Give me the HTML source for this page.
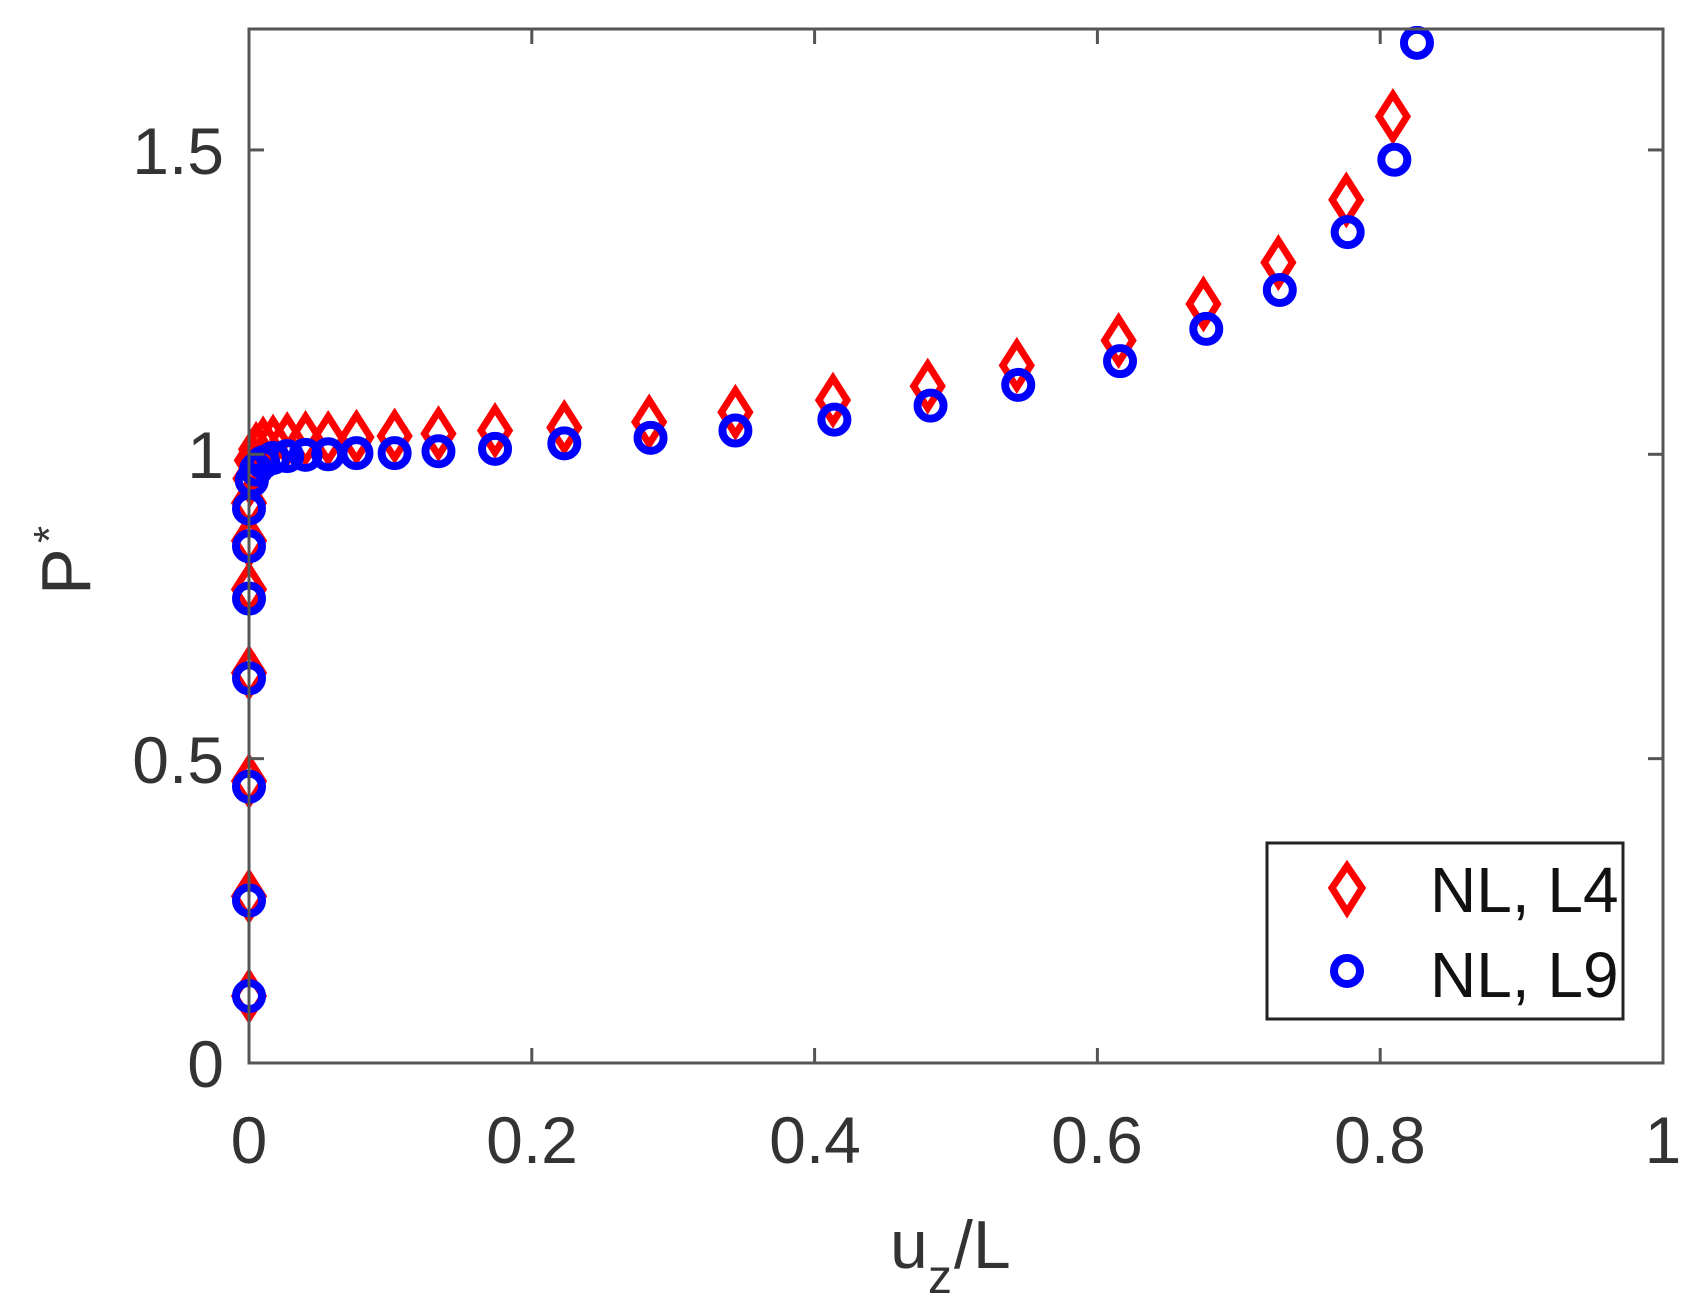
<!DOCTYPE html>
<html><head><meta charset="utf-8"><style>
html,body{margin:0;padding:0;background:#fff;}
svg{display:block;}
text{font-family:"Liberation Sans",sans-serif;}
</style></head><body>
<svg id="s" width="1696" height="1315" viewBox="0 0 1696 1315" xmlns="http://www.w3.org/2000/svg">
<rect width="1696" height="1315" fill="#fff"/>
<g id="data"></g>
<g stroke="#555" stroke-width="3" fill="none">
<rect x="249" y="29" width="1414" height="1034"/>
</g>
<g id="ticks" stroke="#555" stroke-width="3"></g>
<g fill="#333" font-size="66" text-anchor="middle">
<text x="249" y="1163">0</text>
<text x="532" y="1163">0.2</text>
<text x="815" y="1163">0.4</text>
<text x="1097" y="1163">0.6</text>
<text x="1380" y="1163">0.8</text>
<text x="1663" y="1163">1</text>
</g>
<g fill="#333" font-size="66" text-anchor="end">
<text x="224" y="1087">0</text>
<text x="224" y="783">0.5</text>
<text x="224" y="478">1</text>
<text x="224" y="174">1.5</text>
</g>
<text x="890" y="1268" font-size="68" fill="#333">u</text>
<text x="928" y="1293" font-size="48" fill="#333">z</text>
<text x="954" y="1268" font-size="68" fill="#333">/L</text>
<g transform="translate(90,595) rotate(-90)" fill="#333">
<text x="0" y="0" font-size="70">P</text>
<text x="52" y="-26" font-size="44">*</text>
</g>
<rect x="1267" y="843" width="356" height="176" fill="#fff" stroke="#222" stroke-width="3"/>
<path d="M1347 866 L1362 888 L1347 912 L1332 888 Z" fill="none" stroke="#f00" stroke-width="7"/>
<circle cx="1347" cy="971" r="13" fill="none" stroke="#00f" stroke-width="8"/>
<text x="1430" y="912" font-size="64" fill="#111">NL, L4</text>
<text x="1430" y="997" font-size="64" fill="#111">NL, L9</text>
</svg>
<script>
var X=function(v){return 249+v*1414;}, Y=function(v){return 1063-v*608.7;};
var red=[[0.809,1.555],[0.776,1.418],[0.728,1.315],[0.675,1.247],[0.615,1.187],[0.543,1.146],[0.480,1.112],[0.413,1.089],[0.344,1.069],[0.283,1.053],[0.223,1.044],[0.174,1.039],[0.134,1.034],[0.103,1.030],[0.076,1.028],[0.056,1.026],[0.040,1.026],[0.027,1.024],[0.017,1.020],[0.010,1.017],[0.005,1.008],[0.002,0.99],[0.001,0.96],[0,0.92],[0,0.858],[0,0.778],[0,0.641],[0,0.463],[0,0.274],[0,0.11]];
var blue=[[0.826,1.676],[0.810,1.484],[0.777,1.365],[0.729,1.270],[0.677,1.206],[0.616,1.153],[0.544,1.114],[0.482,1.080],[0.414,1.057],[0.344,1.039],[0.284,1.027],[0.223,1.018],[0.174,1.009],[0.134,1.005],[0.103,1.002],[0.076,1.002],[0.056,1.000],[0.040,0.999],[0.027,0.997],[0.017,0.994],[0.010,0.987],[0.005,0.975],[0.002,0.957],[0,0.911],[0,0.849],[0,0.763],[0,0.632],[0,0.454],[0,0.267],[0,0.11]];
var g=document.getElementById('data'),h='';
red.forEach(function(p){var x=X(p[0]),y=Y(p[1]);h+='<path d="M'+x+' '+(y-22)+' L'+(x+14)+' '+y+' L'+x+' '+(y+22)+' L'+(x-14)+' '+y+' Z" fill="none" stroke="#f00" stroke-width="7"/>';});
blue.forEach(function(p){h+='<circle cx="'+X(p[0])+'" cy="'+Y(p[1])+'" r="13" fill="none" stroke="#00f" stroke-width="8"/>';});
g.innerHTML=h;
var t='';
[0.2,0.4,0.6,0.8].forEach(function(v){var x=X(v);t+='<line x1="'+x+'" y1="1063" x2="'+x+'" y2="1048"/><line x1="'+x+'" y1="29" x2="'+x+'" y2="44"/>';});
[0.5,1,1.5].forEach(function(v){var y=Y(v);t+='<line x1="249" y1="'+y+'" x2="264" y2="'+y+'"/><line x1="1663" y1="'+y+'" x2="1648" y2="'+y+'"/>';});
document.getElementById('ticks').innerHTML=t;
</script>
</body></html>
